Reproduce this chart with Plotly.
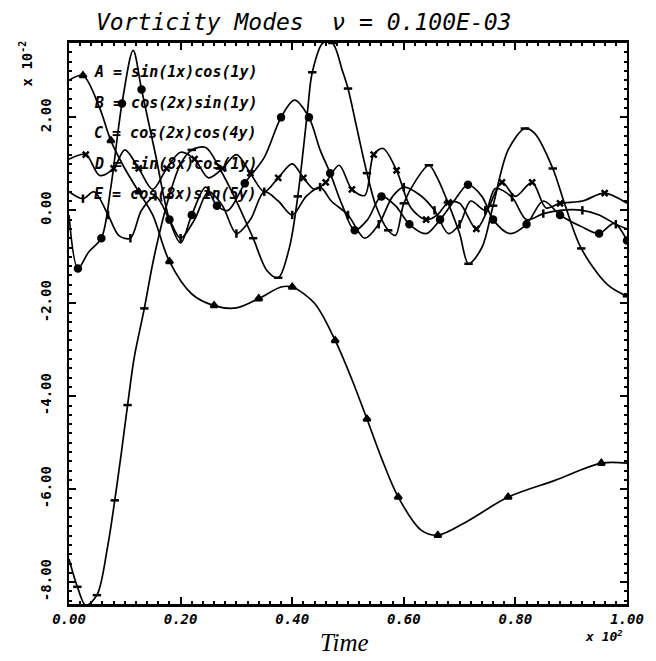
import plotly.graph_objects as go

# ---- data (Time in units of 10^2, values in units of 10^-2) ----
a_t = [0, 0.025, 0.055, 0.075, 0.1, 0.125, 0.15, 0.18, 0.22, 0.26, 0.3, 0.34, 0.38, 0.4,
       0.44, 0.477, 0.507, 0.534, 0.56, 0.59, 0.631, 0.661, 0.711, 0.787, 0.871, 0.954, 1.0]
a_v = [2.8, 2.9, 2.2, 1.5, 0.9, 0.4, -0.1, -1.1, -1.8, -2.05, -2.1, -1.9, -1.65, -1.65,
       -2.0, -2.8, -3.64, -4.49, -5.33, -6.17, -6.88, -6.99, -6.71, -6.17, -5.81, -5.44, -5.44]

p_t = [0, 0.015, 0.03, 0.05, 0.069, 0.082, 0.094, 0.105, 0.117, 0.135, 0.152, 0.179, 0.2,
       0.22, 0.245, 0.27, 0.3, 0.33, 0.355, 0.375, 0.395, 0.41, 0.427, 0.436, 0.455, 0.472,
       0.49, 0.5, 0.516, 0.534, 0.55, 0.572, 0.585, 0.6, 0.622, 0.645, 0.66, 0.679, 0.7,
       0.716, 0.74, 0.76, 0.787, 0.817, 0.835, 0.867, 0.888, 0.918, 0.965, 1.0]
p_v = [-7.5, -8.1, -8.5, -8.28, -7.25, -6.24, -5.2, -4.19, -3.16, -2.11, -1.03, 0.28, 1.0,
       1.3, 1.35, 0.9, 0.2, -0.6, -1.3, -1.45, -0.8, 0.3, 2.08, 2.97, 3.6, 3.6,
       3.0, 2.62, 1.76, 0.8, 0.1, -0.43, -0.54, 0.15, 0.65, 0.97, 0.7, 0.17, -0.5,
       -1.15, -0.8, 0.1, 1.3, 1.76, 1.65, 0.9, 0.15, -0.82, -1.6, -1.85]

t_t = [0, 0.016, 0.035, 0.058, 0.075, 0.095, 0.115, 0.13, 0.155, 0.18, 0.2, 0.22, 0.245,
       0.265, 0.285, 0.315, 0.35, 0.38, 0.404, 0.43, 0.45, 0.468, 0.49, 0.512, 0.535, 0.56,
       0.585, 0.61, 0.64, 0.665, 0.69, 0.715, 0.74, 0.76, 0.79, 0.82, 0.85, 0.88, 0.918,
       0.95, 0.977, 1.0]
t_v = [-0.1, -1.25, -0.9, -0.6, 0.5, 2.3, 3.44, 2.6, 1.2, -0.2, -0.7, -0.1, 0.5,
       0.1, 0.0, 0.58, 1.14, 2.0, 2.37, 2.0, 1.3, 0.8, 0.1, -0.43, -0.2, 0.3,
       0.1, -0.3, -0.5, -0.2, 0.2, 0.55, 0.3, -0.2, -0.5, -0.3, 0.2, -0.1, -0.35,
       -0.5, -0.28, -0.65]

d_t = [0, 0.03, 0.055, 0.08, 0.1, 0.125, 0.15, 0.175, 0.2, 0.225, 0.25, 0.275, 0.3, 0.325,
       0.35, 0.375, 0.4, 0.42, 0.44, 0.46, 0.484, 0.507, 0.53, 0.546, 0.563, 0.587, 0.613,
       0.64, 0.66, 0.68, 0.7, 0.73, 0.75, 0.776, 0.8, 0.83, 0.855, 0.88, 0.92, 0.96, 1.0]
d_v = [1.1, 1.2, 0.75, 0.9, 1.3, 0.9, 0.45, 0.9, 1.25, 1.1, 0.7, 0.9, 1.2, 0.8,
       0.4, 0.7, 1.0, 0.7, 0.45, 0.6, 0.97, 0.45, 0.32, 1.2, 1.33, 0.86, 0.05,
       -0.2, -0.1, 0.17, 0.15, -0.4, 0.0, 0.6, 0.3, 0.6, 0.05, 0.15, 0.2, 0.37, 0.15]

e_t = [0, 0.025, 0.045, 0.07, 0.09, 0.11, 0.13, 0.155, 0.18, 0.2, 0.225, 0.25, 0.275, 0.3,
       0.325, 0.35, 0.375, 0.4, 0.425, 0.45, 0.47, 0.5, 0.53, 0.555, 0.58, 0.6, 0.63, 0.655,
       0.68, 0.7, 0.72, 0.746, 0.764, 0.794, 0.82, 0.85, 0.88, 0.92, 0.95, 0.98, 1.0]
e_v = [0.4, 0.25, 0.4, -0.1, -0.55, -0.6, 0.0, 0.3, -0.2, -0.6, -0.2, 0.4, 0.1, -0.5,
       -0.2, 0.4, 0.2, -0.1, 0.3, 0.5, 0.2, -0.1, -0.6, -0.3, 0.3, 0.5, 0.32, 0.0,
       -0.5, -0.3, 0.2, 0.0, 0.47, 0.28, -0.2, -0.07, 0.0, 0.0, -0.1, -0.3, -0.4]

legend_lines = ["A = sin(1x)cos(1y)", "B = cos(2x)sin(1y)", "C = cos(2x)cos(4y)",
                "D = sin(8x)cos(1y)", "E = cos(8x)sin(5y)"]
x_ticks = [0.0, 0.2, 0.4, 0.6, 0.8, 1.0]
y_ticks = [-8.0, -6.0, -4.0, -2.0, 0.0, 2.0]

series = [(a_t, a_v, "triangle-up"), (p_t, p_v, "line-ew"), (t_t, t_v, "circle"),
          (d_t, d_v, "x-thin"), (e_t, e_v, "line-ns")]

fig = go.Figure()
for xs, ys, sym in series:
    fig.add_trace(go.Scatter(x=xs, y=ys, mode="lines",
                             line=dict(color="black", width=1.7, shape="spline", smoothing=0.9),
                             showlegend=False, hoverinfo="skip"))
    fig.add_trace(go.Scatter(x=xs[1::2], y=ys[1::2], mode="markers",
                             marker=dict(symbol=sym, size=6, color="black",
                                         line=dict(color="black", width=2.5)),
                             showlegend=False, hoverinfo="skip"))

L, R, T, B = 69, 23, 43, 57
W, H = 656, 661
pw, ph = W - L - R, H - T - B

def px(xp):
    return (xp - L) / pw

def py(yp):
    return (H - B - yp) / ph

mono = "DejaVu Sans Mono"
ann = []
ann.append(dict(text="Vorticity Modes  \u03bd = 0.100E-03", x=px(306), y=py(22),
                xref="paper", yref="paper", showarrow=False, xanchor="center", yanchor="middle",
                font=dict(family=mono, size=23, color="black", style="italic")))
for i, s in enumerate(legend_lines):
    ann.append(dict(text=s, x=px(92), y=py(72 + i * 30.5), xref="paper", yref="paper",
                    showarrow=False, xanchor="left", yanchor="middle",
                    font=dict(family=mono, size=15, color="black", style="italic", weight="bold")))
ann.append(dict(text="Time", x=px(347), y=py(642), xref="paper", yref="paper",
                showarrow=False, xanchor="center", yanchor="middle",
                font=dict(family="Liberation Serif", size=25, color="black", style="italic")))
ann.append(dict(text="x 10<sup>2</sup>", x=px(610), y=py(636), xref="paper", yref="paper",
                showarrow=False, xanchor="center", yanchor="middle",
                font=dict(family=mono, size=13, color="black", style="italic", weight="bold")))
ann.append(dict(text="x 10<sup>-2</sup>", x=px(26), y=py(63), xref="paper", yref="paper",
                showarrow=False, xanchor="center", yanchor="middle", textangle=-90,
                font=dict(family=mono, size=14, color="black", weight="bold")))

fig.update_layout(
    width=W, height=H, margin=dict(l=L, r=R, t=T, b=B),
    paper_bgcolor="white", plot_bgcolor="white",
    annotations=ann,
    xaxis=dict(range=[0, 1], tickvals=x_ticks, ticktext=[f"{v:.2f}" for v in x_ticks],
               ticks="inside", ticklen=7, tickwidth=2, tickcolor="black",
               minor=dict(dtick=0.02, ticks="inside", ticklen=3, tickwidth=1.5, tickcolor="black"),
               showline=True, linecolor="black", linewidth=2.5, mirror="ticks",
               showgrid=False, zeroline=False,
               tickfont=dict(family=mono, size=14, color="black", style="italic", weight="bold")),
    yaxis=dict(range=[-8.47, 3.6], tickvals=y_ticks, ticktext=[f"{v:.2f}" for v in y_ticks],
               ticks="inside", ticklen=7, tickwidth=2, tickcolor="black", tickangle=-90,
               minor=dict(dtick=0.2, ticks="inside", ticklen=3, tickwidth=1.5, tickcolor="black"),
               showline=True, linecolor="black", linewidth=2, mirror="ticks",
               showgrid=False, zeroline=False, ticklabelstandoff=10,
               tickfont=dict(family=mono, size=14, color="black", weight="bold")),
)

fig.write_html("out.html")
